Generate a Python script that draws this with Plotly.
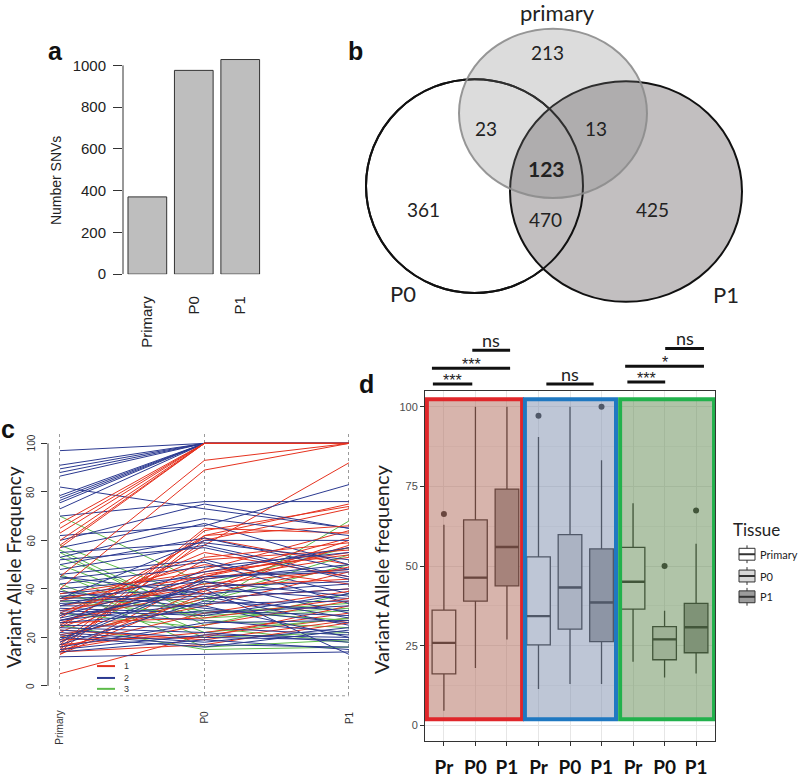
import plotly.graph_objects as go

W, H = 800, 778
def X(px): return px / W
def Y(py): return 1 - py / H

SANS = "Liberation Sans, Arial, sans-serif"
CAL = "Lato, Open Sans, sans-serif"

# ---------------- panel a data ----------------
snv_samples = ["Primary", "P0", "P1"]
snv_counts = [370, 976, 1028]
snv_bar_pos = [0.7, 1.9, 3.1]
snv_yticks = [0, 200, 400, 600, 800, 1000]

# ---------------- panel b data ----------------
venn_sets = ["primary", "P0", "P1"]
venn_regions = ["primary", "primary&P0", "primary&P1", "primary&P0&P1", "P0", "P0&P1", "P1"]
venn_counts = [213, 23, 13, 123, 361, 470, 425]

# ---------------- panel c data (VAF per variant: Primary, P0, P1) ----------------
vaf_samples = ["Primary", "P0", "P1"]
vaf_yticks = [0, 20, 40, 60, 80, 100]
cluster_names = ["1", "2", "3"]
cluster1_vaf = [
    [25, 58, 92], [5, 21, 28],
    [14, 62, 75], [15, 64, 74], [16, 60, 73], [17, 65, 63], [13, 45, 57],
    [14, 40, 60], [18, 52, 56], [22, 48, 64], [24, 46, 55], [26, 44, 53],
    [27, 39, 58], [28, 61, 50], [30, 55, 45], [33, 42, 48], [35, 50, 42],
    [20, 36, 40], [21, 33, 47], [16, 30, 39], [15, 25, 35], [17, 22, 30],
    [19, 20, 33], [23, 19, 27], [36, 45, 61], [38, 47, 54], [14, 17, 26],
    [26, 28, 36], [31, 41, 44], [24, 62, 66], [29, 53, 59], [13, 38, 49],
    [67, 100, 100], [65, 100, 100], [63, 100, 100], [60, 100, 100], [58, 100, 100],
    [57, 100, 100], [45, 93, 100], [40, 89, 100],
]
cluster2_vaf = [
    [97, 100, 100], [91, 100, 100], [89.5, 100, 100], [88, 100, 100], [86.5, 100, 100],
    [78.5, 100, 100], [77.5, 100, 100], [76.5, 100, 100], [75.5, 100, 100], [73, 100, 100],
    [82, 73, 65], [70, 76, 76], [62, 66, 83], [60, 75, 65], [57, 69, 62],
    [53, 67, 50], [50, 61, 48], [48, 58, 45], [46, 52, 38], [44, 51, 34],
    [42, 49, 55], [40, 45, 48], [38, 43, 30], [37, 40, 36], [36, 38, 42],
    [35, 37, 25], [34, 36, 40], [33, 33, 20], [32, 30, 33], [31, 29, 38],
    [30, 27, 22], [29, 45, 47], [28, 40, 13], [27, 34, 35], [26, 31, 29],
    [25, 24, 21], [24, 22, 18], [23, 20, 19], [22, 18, 24], [21, 17, 16],
    [20, 16, 23], [19, 44, 50], [18, 43, 37], [17, 35, 31], [16, 26, 27],
    [15, 21, 20], [14, 19, 15], [12, 13, 14], [55, 59, 52], [52, 57, 44],
    [36, 60, 60], [33, 47, 57], [27, 41, 43], [45, 38, 28], [39, 32, 26],
]
cluster3_vaf = [
    [70, 42, 57], [58, 35, 50], [56, 28, 31], [55, 25, 38], [53, 30, 34],
    [50, 27, 24], [46, 22, 28], [45, 33, 68], [42, 20, 22], [40, 16, 19],
    [37, 31, 27], [35, 29, 32], [30, 24, 18], [25, 15, 16], [20, 36, 54],
]

# ---------------- panel d data (box statistics) ----------------
box_tissues = ["Primary", "P0", "P1"]
box_ticktext = ["Pr", "P0", "P1", "Pr", "P0", "P1", "Pr", "P0", "P1"]
box_pos = [1, 2, 3, 4, 5, 6, 7, 8, 9]
box_lower = [4.6, 18, 27, 11.4, 13, 13, 20, 15, 16.3]
box_q1 = [16.2, 39, 43.8, 25.3, 30.2, 26.3, 36.5, 20.6, 22.8]
box_median = [25.9, 46.4, 56, 34.3, 43.3, 38.6, 45.1, 27, 30.8]
box_q3 = [36.2, 64.5, 74.2, 52.9, 59.9, 55.4, 55.9, 31, 38.3]
box_upper = [63, 100, 100, 90.5, 100, 83.2, 69.7, 36, 57]
outlier_pos = [1, 4, 6, 8, 9]
outlier_vaf = [66.4, 97.2, 100, 50, 67.5]
d_yticks = [0, 25, 50, 75, 100]
sig_labels = ["***", "***", "ns", "ns", "***", "*", "ns"]
sig_from = [0.65, 0.62, 1.9, 4.25, 6.82, 6.75, 8.02]
sig_to = [1.9, 3.1, 3.1, 5.75, 8.02, 9.25, 9.25]

# ---------------- geometry ----------------
A_DOM_X = (123, 265); A_DOM_Y = (277, 55.5)
C_DOM_X = (48, 352); C_DOM_Y = (703, 439)
D_DOM_X = (425, 715); D_DOM_Y = (749, 395)
D_XR = [0.4, 9.6]; D_YR = [-5, 105]

def dpx(v):
    return D_DOM_X[0] + (v - D_XR[0]) / (D_XR[1] - D_XR[0]) * (D_DOM_X[1] - D_DOM_X[0])

def note(px, py, text, size, family=CAL, color="#222222", xanchor="center", yanchor="middle", angle=0):
    return dict(x=X(px), y=Y(py), xref="paper", yref="paper", showarrow=False, text=text,
                xanchor=xanchor, yanchor=yanchor, textangle=angle,
                font=dict(family=family, size=size, color=color))

fig = go.Figure()

# ---- panel a ----
fig.add_trace(go.Bar(x=snv_bar_pos, y=snv_counts, width=1.0,
                     marker=dict(color="#bebebe", line=dict(color="#333333", width=1)),
                     xaxis="x", yaxis="y", hoverinfo="skip"))

# ---- panel c (interleaved drawing order) ----
c_colors = ["#e5321f", "#2b3990", "#5dbb4a"]
cluster_data = [cluster1_vaf, cluster2_vaf, cluster3_vaf]
n_max = max(len(d) for d in cluster_data)
for i in range(n_max):
    for ci in [1, 2, 0]:
        data = cluster_data[ci]
        if i < len(data):
            fig.add_trace(go.Scatter(x=[0, 1, 2], y=data[i], mode="lines",
                                     line=dict(color=c_colors[ci], width=1),
                                     xaxis="x2", yaxis="y2", hoverinfo="skip"))

# ---- panel d ----
tissue_fill = ["#ffffff", "#d8d8d8", "#9c9c9c"]
for t in range(3):
    idx = [t, t + 3, t + 6]
    fig.add_trace(go.Box(
        x=[box_pos[i] for i in idx],
        q1=[box_q1[i] for i in idx], median=[box_median[i] for i in idx],
        q3=[box_q3[i] for i in idx], lowerfence=[box_lower[i] for i in idx],
        upperfence=[box_upper[i] for i in idx],
        width=0.75, whiskerwidth=0, boxpoints=False,
        fillcolor=tissue_fill[t], line=dict(color="#222222", width=1.3),
        xaxis="x3", yaxis="y3", hoverinfo="skip", name=box_tissues[t]))
mx, my = [], []
for p, m in zip(box_pos, box_median):
    mx += [p - 0.375, p + 0.375, None]
    my += [m, m, None]
fig.add_trace(go.Scatter(x=mx, y=my, mode="lines", line=dict(color="#222222", width=2.4),
                         xaxis="x3", yaxis="y3", hoverinfo="skip"))
fig.add_trace(go.Scatter(x=outlier_pos, y=outlier_vaf, mode="markers",
                         marker=dict(color="#222222", size=6),
                         xaxis="x3", yaxis="y3", hoverinfo="skip"))

shapes = []
annotations = []

# panel a axis line (0..1000)
shapes.append(dict(type="line", xref="paper", yref="y", x0=X(123), x1=X(123), y0=0, y1=1000,
                   line=dict(color="#333333", width=1)))

# panel b venn
def circ(l, r, t, b, fill, lc, lw):
    return dict(type="circle", xref="paper", yref="paper", x0=X(l), x1=X(r), y0=Y(b), y1=Y(t),
                fillcolor=fill, line=dict(color=lc, width=lw), layer="above")
shapes.append(circ(366, 583, 80, 296, "#ffffff", "#111111", 2))
shapes.append(circ(510, 742, 82, 305, "#c2bfc0", "#111111", 2))
shapes.append(circ(366, 583, 80, 296, "rgba(0,0,0,0)", "#111111", 2))
shapes.append(circ(459, 647, 29, 200, "rgba(124,124,124,0.27)", "rgba(140,140,140,0.9)", 2))

venn_xy = [(547, 53), (486, 130), (596, 130), (546, 170), (423, 212), (545, 222), (652, 212)]
for (vx, vy), cnt, reg in zip(venn_xy, venn_counts, venn_regions):
    bold = reg == "primary&P0&P1"
    annotations.append(note(vx, vy, ("<b>%d</b>" % cnt) if bold else str(cnt), 21 if bold else 19))
for (vx, vy), lab in zip([(557, 13), (403, 297), (726, 298)], venn_sets):
    annotations.append(note(vx, vy, lab, 22))

# panel c decorations
shapes.append(dict(type="line", xref="x2 domain", yref="y2", x0=0, x1=0, y0=0, y1=100,
                   line=dict(color="#333333", width=1)))
shapes.append(dict(type="line", xref="x2", yref="y2 domain", x0=0, x1=2, y0=0, y1=0,
                   line=dict(color="#9a9a9a", width=1, dash="dot")))
for v in vaf_yticks:
    annotations.append(dict(x=X(31), y=v, xref="paper", yref="y2", showarrow=False, text=str(v),
                            textangle=-90, xanchor="center", yanchor="middle",
                            font=dict(family=SANS, size=10, color="#333333")))
for i, lab in enumerate(vaf_samples):
    annotations.append(dict(x=i, y=Y(716), xref="x2", yref="paper", showarrow=False, text=lab,
                            textangle=-90, xanchor="center", yanchor="top",
                            font=dict(family=SANS, size=10, color="#333333")))
for i, (name, col) in enumerate(zip(cluster_names, c_colors)):
    yy = [673, 685, 696][i]
    shapes.append(dict(type="line", xref="paper", yref="paper", x0=X(97), x1=X(115), y0=Y(yy), y1=Y(yy),
                       line=dict(color=col, width=2)))
    annotations.append(note(122, yy, name, 9, family=SANS, color="#333333", xanchor="left"))

# panel d rectangles
rects = [((0.46, 3.48), "rgba(175,105,89,0.5)", "#e0262a"),
         ((3.57, 6.46), "rgba(125,141,173,0.5)", "#1f78c1"),
         ((6.59, 9.57), "rgba(97,137,81,0.5)", "#22b14c")]
for (x0, x1), fc, lc in rects:
    shapes.append(dict(type="rect", xref="x3", yref="y3", x0=x0, x1=x1, y0=1.9, y1=102.4,
                       fillcolor=fc, line=dict(color=lc, width=4), layer="above"))

# significance bars
sig_y = [388, 372, 354, 388, 386, 370, 352]
for a0, a1, lab, yy in zip(sig_from, sig_to, sig_labels, sig_y):
    shapes.append(dict(type="line", xref="paper", yref="paper", x0=X(dpx(a0)), x1=X(dpx(a1)),
                       y0=Y(yy), y1=Y(yy), line=dict(color="#111111", width=3)))
    cx = (dpx(a0) + dpx(a1)) / 2
    if lab == "ns":
        annotations.append(note(cx, yy - 10, lab, 18))
    else:
        annotations.append(note(cx, yy - 4, lab, 16, family=SANS))

# tissue legend
annotations.append(note(731, 535, "Tissue", 17, xanchor="left"))
for i, (tname, fc) in enumerate(zip(box_tissues, tissue_fill)):
    cy = [560, 582, 603][i]
    shapes.append(dict(type="line", xref="paper", yref="paper", x0=X(747), x1=X(747),
                       y0=Y(cy - 9), y1=Y(cy + 9), line=dict(color="#333333", width=1)))
    shapes.append(dict(type="rect", xref="paper", yref="paper", x0=X(739), x1=X(755),
                       y0=Y(cy + 6), y1=Y(cy - 6), fillcolor=fc, line=dict(color="#333333", width=1)))
    shapes.append(dict(type="line", xref="paper", yref="paper", x0=X(739), x1=X(755),
                       y0=Y(cy), y1=Y(cy), line=dict(color="#333333", width=2)))
    annotations.append(note(758, cy, tname, 11, xanchor="left"))

# axis titles and panel letters
annotations.append(note(56, 183, "Number SNVs", 14, family=SANS, angle=-90))
annotations.append(note(13, 573, "Variant Allele Frequency", 19, angle=-90))
annotations.append(note(381, 575, "Variant Allele frequency", 20, angle=-90))
for letter, (lx, ly) in zip(["a", "b", "c", "d"], [(55, 52), (355, 52), (8, 433), (366, 388)]):
    annotations.append(note(lx, ly, "<b>%s</b>" % letter, 25, family=SANS, color="#111111"))

fig.update_layout(
    width=W, height=H, margin=dict(l=0, r=0, t=0, b=0),
    paper_bgcolor="white", plot_bgcolor="rgba(0,0,0,0)", showlegend=False,
    boxmode="overlay",
    xaxis=dict(domain=[X(A_DOM_X[0]), X(A_DOM_X[1])], range=[0.071, 3.74], anchor="y",
               tickvals=snv_bar_pos, ticktext=snv_samples, tickangle=-90, ticks="",
               showline=False, showgrid=False, zeroline=False, ticklabelstandoff=18,
               tickfont=dict(family=SANS, size=15, color="#222222")),
    yaxis=dict(domain=[Y(A_DOM_Y[0]), Y(A_DOM_Y[1])], range=[0, 1050], anchor="x",
               tickvals=snv_yticks, ticks="outside", ticklen=9, tickcolor="#333333",
               showline=False, showgrid=False, zeroline=False, ticklabelstandoff=4,
               tickfont=dict(family=SANS, size=15, color="#222222")),
    xaxis2=dict(domain=[X(C_DOM_X[0]), X(C_DOM_X[1])], range=[-0.083, 2.021], anchor="y2",
                tickvals=[0, 1, 2], showticklabels=False, ticks="",
                showline=False, showgrid=True, gridcolor="#9a9a9a", griddash="dot", gridwidth=1,
                zeroline=False),
    yaxis2=dict(domain=[Y(C_DOM_Y[0]), Y(C_DOM_Y[1])], range=[-4.08, 103.67], anchor="x2",
                tickvals=vaf_yticks, ticks="outside", ticklen=6, tickcolor="#333333",
                showticklabels=False, showline=False, showgrid=False, zeroline=False),
    xaxis3=dict(domain=[X(D_DOM_X[0]), X(D_DOM_X[1])], range=D_XR, anchor="y3",
                tickvals=box_pos, ticktext=box_ticktext, ticks="outside", ticklen=4,
                tickcolor="#333333", showline=True, mirror=True, linecolor="#333333", linewidth=1,
                showgrid=True, gridcolor="#e6e6e6", zeroline=False, ticklabelstandoff=5,
                tickfont=dict(family=CAL, size=19, color="#111111", weight="bold")),
    yaxis3=dict(domain=[Y(D_DOM_Y[0]), Y(D_DOM_Y[1])], range=D_YR, anchor="x3",
                tickvals=d_yticks, ticks="outside", ticklen=4, tickcolor="#333333",
                showline=True, mirror=True, linecolor="#333333", linewidth=1,
                showgrid=True, gridcolor="#e6e6e6", zeroline=False,
                minor=dict(tickvals=[12.5, 37.5, 62.5, 87.5], showgrid=True, gridcolor="#f2f2f2", ticks=""),
                tickfont=dict(family=SANS, size=11, color="#4d4d4d")),
    shapes=shapes, annotations=annotations,
)

fig.write_html("out.html", config={"displayModeBar": False},
               post_script="document.body.style.margin='0';document.body.style.overflow='hidden';")
